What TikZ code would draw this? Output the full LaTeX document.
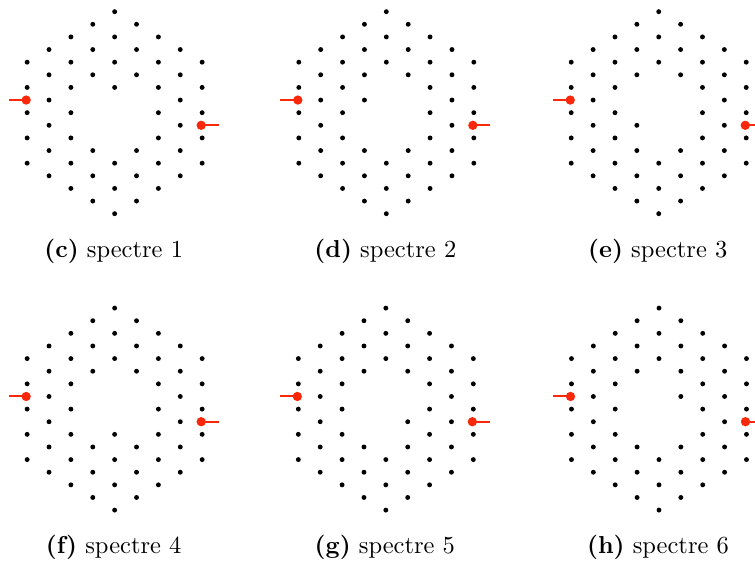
\documentclass[tikz,border=0pt]{standalone}
\usepackage{tikz}
\definecolor{spinred}{RGB}{250,40,10}

\begin{document}
\begin{tikzpicture}[every node/.style={font=\normalsize},
  site/.style={fill=black},
  probe/.style={fill=spinred},
  lead/.style={draw=spinred,line width=0.8pt},
  subcap/.style={anchor=base,inner sep=0pt}]

\clip (0,0) rectangle (308.2pt,-229.4pt);

% one panel per spectrum: centre, and the one site kept in the central hole
\foreach \lab/\num/\cx/\cy/\pa/\pb in {c/1/46.8/-46.0/0/2, d/2/157.7/-46.0/-1/1,
    e/3/268.9/-46.0/-1/-1, f/4/46.8/-167.0/0/-2, g/5/157.5/-167.0/1/-1,
    h/6/269.0/-167.0/1/1}
{
  \begin{scope}[shift={(\cx pt,\cy pt)}, x=8.93pt, y=5.154pt]
    \foreach \i in {-4,...,4}
      \foreach \j in {-8,...,8} {
        \pgfmathtruncatemacro{\keep}{iseven((\i)+(\j)) && (abs(\i)+abs(\j)<=8)
          && (abs(\i)>1 || abs(\i)+abs(\j)>2 || ((\i)==(\pa) && (\j)==(\pb)))}
        \ifnum\keep=1 \fill[site] (\i,\j) circle[radius=1pt]; \fi
      }
    \coordinate (in\lab) at ([xshift=-0.4pt]-4,1);
    \coordinate (out\lab) at ([xshift=-0.4pt]4,-1);
    \coordinate (inend\lab) at ([xshift=-7.1pt]in\lab);
    \coordinate (outend\lab) at ([xshift=7.1pt]out\lab);
    \draw[lead] (inend\lab) -- (in\lab);
    \draw[lead] (out\lab) -- (outend\lab);
    \fill[probe] (in\lab) circle[radius=1.9pt];
    \fill[probe] (out\lab) circle[radius=1.9pt];
    \node[subcap] (cap\lab) at (-0.4pt,-59pt) {\textbf{(\lab)} spectre \num};
  \end{scope}
}
\end{tikzpicture}
\end{document}
